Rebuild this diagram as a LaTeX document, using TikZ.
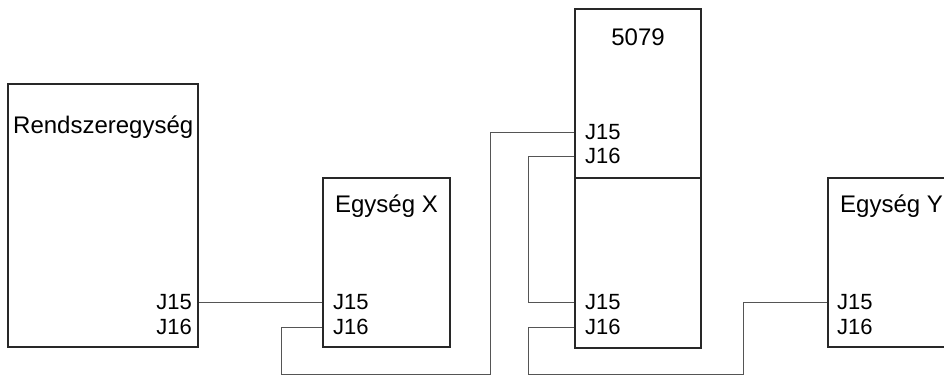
\documentclass[tikz,border=0pt]{standalone}
\usepackage{fontspec}
\setmainfont{Liberation Sans}
\usetikzlibrary{positioning,calc}
\definecolor{boxgray}{RGB}{40,40,40}
\definecolor{wiregray}{RGB}{85,85,85}
\tikzset{
  unit/.style={rectangle, draw=boxgray, line width=1.6pt, inner sep=0pt},
  title/.style={inner sep=0pt, font=\fontsize{24}{24}\selectfont},
  port/.style={inner sep=0pt, font=\fontsize{22}{22}\selectfont},
  wire/.style={draw=wiregray, line width=1pt}
}

\begin{document}
\begin{tikzpicture}[x=1pt,y=-1pt]
\clip (0,0) rectangle (944,377);

% --- Units ---
\node[unit, minimum width=190pt, minimum height=263pt] (sys) at (103,215.5) {};
\node[unit, minimum width=127pt, minimum height=169pt] (unitx) at (386.5,262.5) {};
\node[unit, minimum width=126pt, minimum height=169pt] (exttop) at (638,93.5) {};
\node[unit, minimum width=126pt, minimum height=170pt] (extbot) at (638,263) {};
\node[unit, minimum width=127pt, minimum height=169pt] (unity) at (891.5,262.5) {};

% --- Titles ---
\node[title, anchor=west] (systitle) at (13,127) {Rendszeregység};
\node[title] (xtitle) at (386.5,206) {Egység X};
\node[title] (exttitle) at (638,37) {5079};
\node[title] (ytitle) at (891.5,206) {Egység Y};

% --- Ports ---
\node[port, anchor=east] (sysJ15) at (192,302) {J15};
\node[port, anchor=east] (sysJ16) at (192,327) {J16};
\node[port, anchor=west] (xJ15) at (333,302) {J15};
\node[port, anchor=west] (xJ16) at (333,327) {J16};
\node[port, anchor=west] (topJ15) at (585,132) {J15};
\node[port, anchor=west] (topJ16) at (585,156) {J16};
\node[port, anchor=west] (botJ15) at (585,302) {J15};
\node[port, anchor=west] (botJ16) at (585,327) {J16};
\node[port, anchor=west] (yJ15) at (837,302) {J15};
\node[port, anchor=west] (yJ16) at (837,327) {J16};

% --- Cables ---
\draw[wire] (sys.east |- sysJ15) -- (unitx.west |- xJ15);
\draw[wire] (unitx.west |- xJ16) -| (281,374) -| (490,132) -- (exttop.west |- topJ15);
\draw[wire] (exttop.west |- topJ16) -| (528,302) -- (extbot.west |- botJ15);
\draw[wire] (extbot.west |- botJ16) -| (528,374) -| (743,302) -- (unity.west |- yJ15);

\end{tikzpicture}
\end{document}
